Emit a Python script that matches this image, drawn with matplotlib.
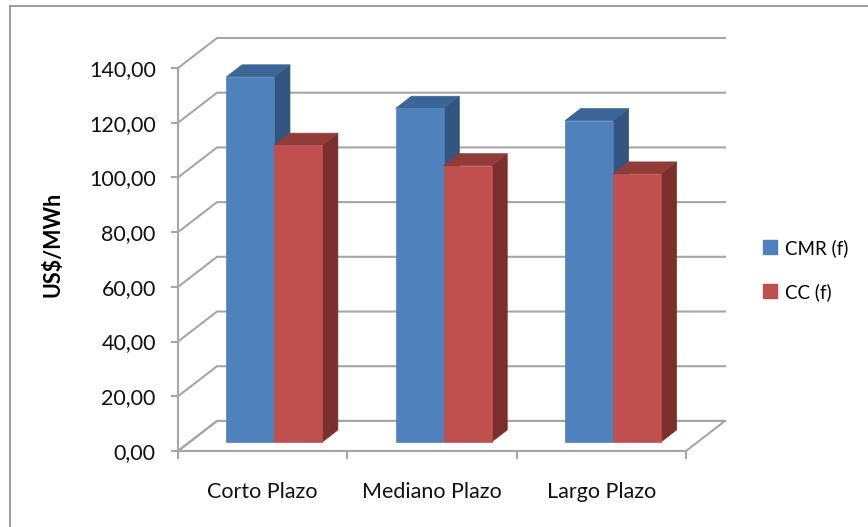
import matplotlib.pyplot as plt
from matplotlib.patches import Polygon
from matplotlib.lines import Line2D

plt.rcParams['font.family'] = ['Lato', 'DejaVu Sans']

categorias = ['Corto Plazo', 'Mediano Plazo', 'Largo Plazo']
series = ['CMR (f)', 'CC (f)']
cmr = [133.5, 122.0, 117.5]
cc = [108.5, 101.0, 98.0]
marcas_y = [0, 20, 40, 60, 80, 100, 120, 140]

# colores: frente, tapa, lateral
colores = {
    'CMR (f)': ('#4f81bd', '#3b6597', '#33557f'),
    'CC (f)': ('#c0504d', '#923c39', '#7a2f2d'),
}

W, H = 868, 527
fig = plt.figure(figsize=(W / 100, H / 100), dpi=100)

# area del grafico en pixeles (esquina frontal del piso y fondo de la pared)
x0, x1 = 178, 725
y0, y1 = 451, 38
ax = fig.add_axes([x0 / W, 1 - y0 / H, (x1 - x0) / W, (y0 - y1) / H])

px_cat = 508 / 3.0          # pixeles por categoria
px_val = (451 - 69) / 140.0  # pixeles por unidad
prof_x = 39 / px_cat         # profundidad de la pared en unidades de datos
prof_y = 30 / px_val
ancho = 0.283
f_frente, f_fondo = 0.3, 0.7
ncat = len(categorias)

ax.set_xlim(0, ncat + prof_x)
ax.set_ylim(0, 140 + prof_y)

gris = '#a6a6a6'

# piso
piso = Polygon([(0, 0), (ncat, 0), (ncat + prof_x, prof_y), (prof_x, prof_y)],
               closed=True, fill=False, edgecolor=gris, lw=1.5, clip_on=False)
ax.add_patch(piso)

# lineas de la pared (diagonal + horizontal)
for v in marcas_y:
    ax.plot([0, prof_x, ncat + prof_x], [v, v + prof_y, v + prof_y],
            color=gris, lw=1.5, clip_on=False, zorder=1)


def prisma(x_izq, alto, col):
    fr, tp, lt = col
    ox1, oy1 = prof_x * f_frente, prof_y * f_frente
    ox2, oy2 = prof_x * f_fondo, prof_y * f_fondo
    xl, xr = x_izq + ox1, x_izq + ancho + ox1
    yb, yt = oy1, alto + oy1
    ddx, ddy = ox2 - ox1, oy2 - oy1
    lateral = [(xr, yb), (xr + ddx, yb + ddy), (xr + ddx, yt + ddy), (xr, yt)]
    tapa = [(xl, yt), (xr, yt), (xr + ddx, yt + ddy), (xl + ddx, yt + ddy)]
    frente = [(xl, yb), (xr, yb), (xr, yt), (xl, yt)]
    for pts, c in [(lateral, lt), (tapa, tp), (frente, fr)]:
        ax.add_patch(Polygon(pts, closed=True, facecolor=c, edgecolor=c,
                             lw=0.5, clip_on=False, zorder=3))


for i in range(ncat):
    centro = i + 0.5
    prisma(centro - ancho, cmr[i], colores['CMR (f)'])
    prisma(centro, cc[i], colores['CC (f)'])

# ejes
for s in ['top', 'right']:
    ax.spines[s].set_visible(False)
ax.spines['left'].set_bounds(0, 140)
ax.spines['bottom'].set_bounds(0, ncat)
for s in ['left', 'bottom']:
    ax.spines[s].set_color(gris)
    ax.spines[s].set_linewidth(1.5)

ax.set_yticks(marcas_y)
ax.set_yticklabels([f'{v:.2f}'.replace('.', ',') for v in marcas_y],
                   fontsize=15.5, color='#111111')
ax.set_xticks(range(ncat + 1))
ax.set_xticklabels([])
ax.set_xticks([i + 0.5 for i in range(ncat)], minor=True)
ax.set_xticklabels(categorias, minor=True, fontsize=15.5, color='#111111')
ax.tick_params(axis='y', length=5, width=1.5, color=gris, pad=11)
ax.tick_params(axis='x', which='major', length=6, width=1.5, color=gris)
ax.tick_params(axis='x', which='minor', length=0, pad=22)

ax.set_ylabel('US$/MWh', fontsize=15.5, fontweight='bold', labelpad=18)

# leyenda
manejadores = [Line2D([], [], marker='s', ls='', markersize=10,
                      markerfacecolor=colores[s][0], markeredgecolor=colores[s][0])
               for s in series]
fig.legend(manejadores, series, loc='center left',
           bbox_to_anchor=(742 / W, 1 - 270 / H), frameon=False,
           fontsize=13.5, handletextpad=0.2, labelspacing=1.4,
           handlelength=1.2)

# borde del area del grafico
fig.add_artist(Line2D([10 / W, 1], [1 - 6 / H, 1 - 6 / H],
                      transform=fig.transFigure, color='#8c8c8c', lw=1.2))
fig.add_artist(Line2D([10 / W, 10 / W], [0, 1 - 6 / H],
                      transform=fig.transFigure, color='#8c8c8c', lw=1.2))

fig.savefig('out.png', dpi=100, facecolor='white')
